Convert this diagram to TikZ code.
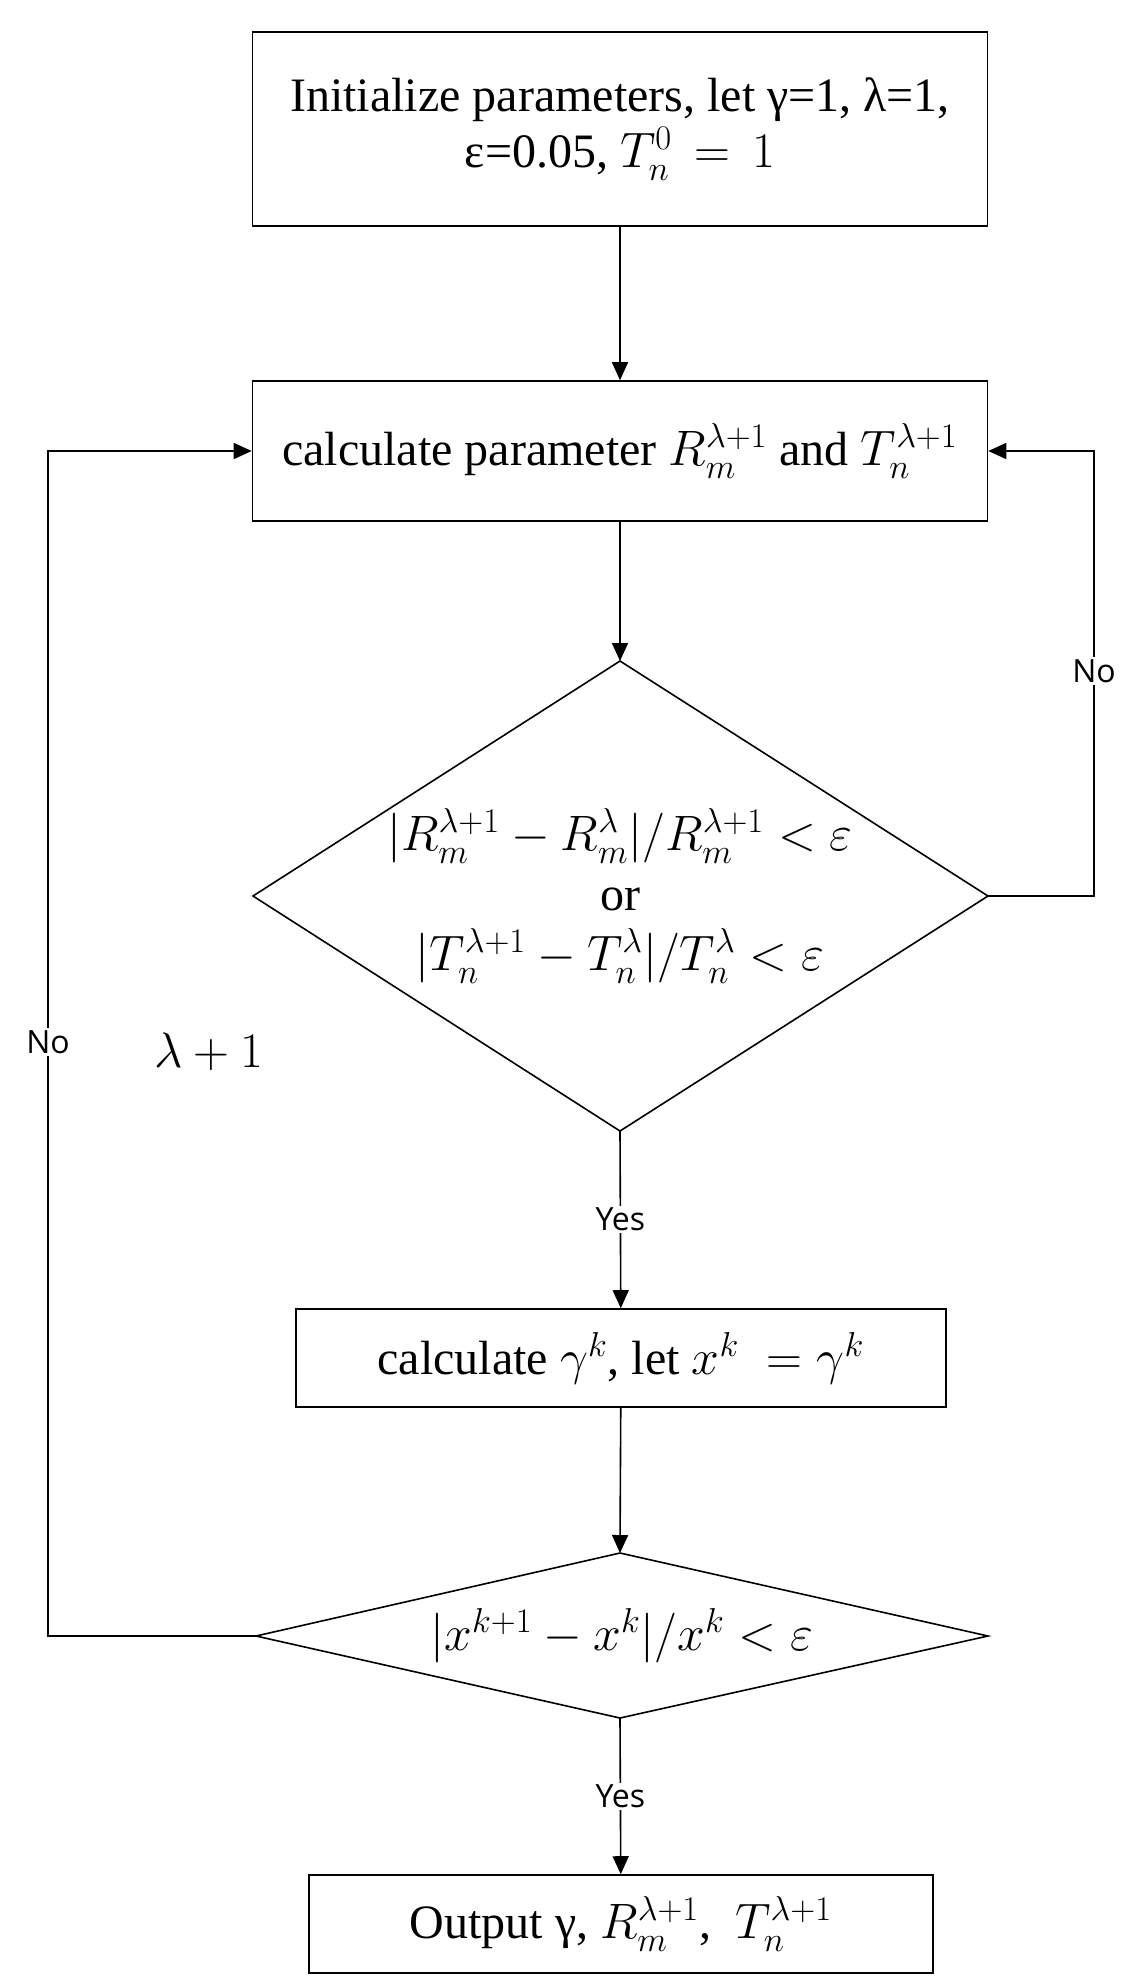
\documentclass[tikz,border=0pt]{standalone}
\usepackage{fontspec}
\setmainfont{Liberation Serif}
\newfontfamily\lblfont{Open Sans}
\usetikzlibrary{arrows.meta}
\begin{document}
\begin{tikzpicture}[x=0.5pt,y=-0.5pt,
  box/.style={draw,thick,minimum height=#1*0.5pt,inner sep=0pt},
  arr/.style={thick,-{Triangle[length=9pt,width=8pt]}},
  txt/.style={font=\fontsize{24}{28}\selectfont},
  lbl/.style={font=\lblfont\fontsize{16}{19}\selectfont,fill=white,inner sep=1pt}]
\useasboundingbox (0,0) rectangle (1126,1983);
\node[box=194,minimum width=367.5pt,txt,align=center] (b1) at (620,129)
  {Initialize parameters, let γ=1, λ=1,\\ ε=0.05, $T_n^0\,=\,1$};
\node[box=140,minimum width=367.5pt,txt] (b2) at (620,451)
  {calculate parameter $R_m^{\lambda+1}$ and $T_n^{\lambda+1}$};
\draw[thick] (253,896) -- (620,661) -- (988,896) -- (620,1131) -- cycle;
\coordinate (d1t) at (620,661); \coordinate (d1b) at (620,1131);
\coordinate (d1r) at (988,896);
\node[txt,align=center] (d1) at (620,896)
  {$\bigl|R_m^{\lambda+1}-R_m^{\lambda}\bigr|/R_m^{\lambda+1}<\varepsilon$\\[2pt] or\\[2pt]
   $\bigl|T_n^{\lambda+1}-T_n^{\lambda}\bigr|/T_n^{\lambda}<\varepsilon$};
\node[box=98,minimum width=325pt,txt] (b3) at (621,1358)
  {calculate $\gamma^k$, let $x^k\;=\gamma^k$};
\draw[thick] (256,1636) -- (620,1553) -- (988,1636) -- (620,1718) -- cycle;
\coordinate (d2t) at (620,1553); \coordinate (d2b) at (620,1718);
\coordinate (d2l) at (256,1636);
\node[txt] (d2) at (622,1636) {$|x^{k+1}-x^k|/x^k<\varepsilon$};
\node[box=98,minimum width=312pt,txt] (b4) at (621,1924)
  {Output γ, $R_m^{\lambda+1}$,\ \ $T_n^{\lambda+1}$};
\draw[arr] (b1) -- (b2);
\draw[arr] (b2) -- (d1t);
\draw[arr] (d1b) -- (b3) node[lbl,pos=0.5] (y1) {Yes};
\draw[arr] (b3) -- (d2t);
\draw[arr] (d2b) -- (b4) node[lbl,pos=0.5] (y2) {Yes};
\draw[arr] (d1r) -- (1094,896) -- (1094,451) -- (b2.east);
\node[lbl] (n1) at (1094,671) {No};
\draw[arr] (d2l) -- (48,1636) -- (48,451) -- (b2.west);
\node[lbl] (n2) at (48,1042) {No};
\node[txt] (lam) at (209,1052) {$\lambda+1$};
\end{tikzpicture}
\end{document}
